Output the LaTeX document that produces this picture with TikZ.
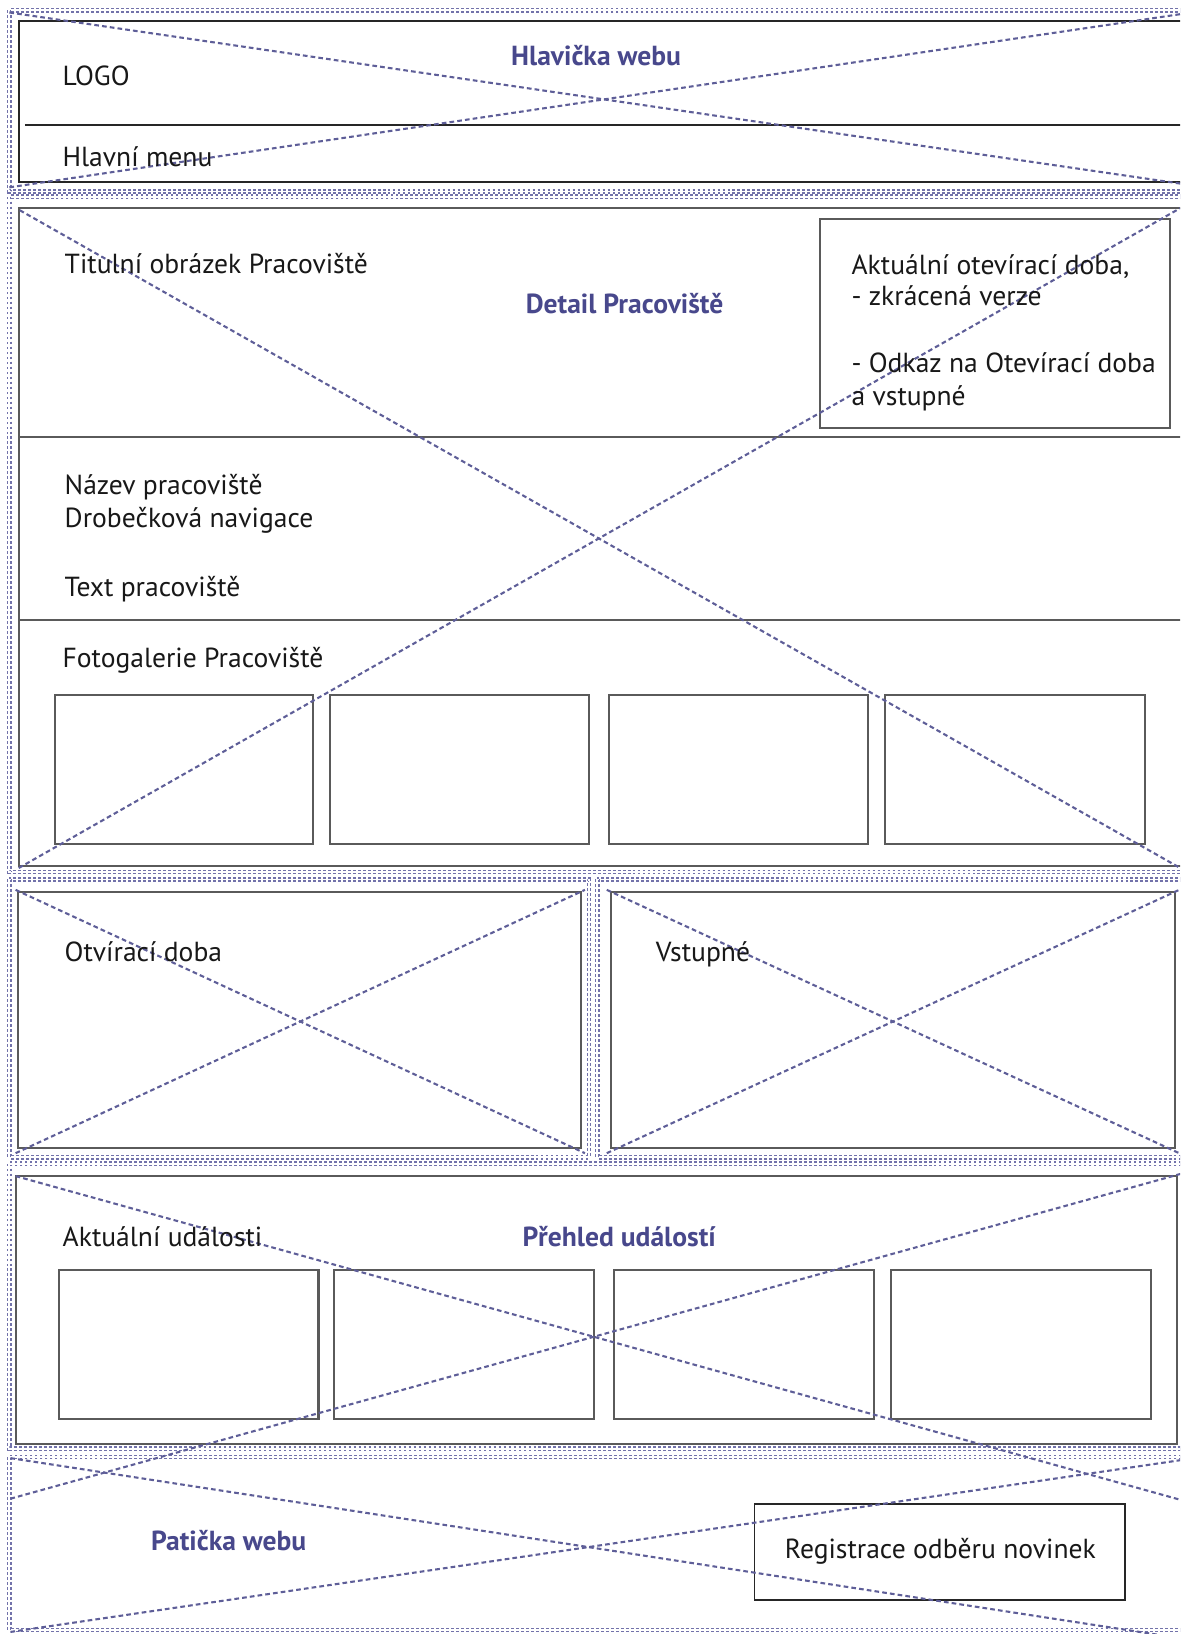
\documentclass[tikz,border=0pt]{standalone}
\usepackage{fontspec}
\setmainfont{PT Sans}
\definecolor{frameblue}{HTML}{7272AA}
\definecolor{diagblue}{HTML}{5E5E98}
\definecolor{boxgrey}{HTML}{5A5A5A}
\definecolor{darkline}{HTML}{262626}
\definecolor{textblack}{HTML}{181818}
\definecolor{titleblue}{HTML}{48488C}
\begin{document}
\begin{tikzpicture}[x=1pt,y=-1pt,
  frame/.style={draw=frameblue, line width=1.3pt, double=white, double distance=1.8pt, dash pattern=on 2.6pt off 2.2pt},
  diag/.style={draw=diagblue, line width=2pt, dash pattern=on 4.5pt off 3pt},
  box/.style={draw=boxgrey, line width=2pt},
  darkbox/.style={draw=darkline, line width=1.7pt},
  txt/.style={anchor=base west, inner sep=0pt, font=\fontsize{26.5}{30}\selectfont, text=textblack},
  ttl/.style={anchor=base west, inner sep=0pt, font=\fontsize{26.5}{30}\selectfont\bfseries, text=titleblue}]
\useasboundingbox (0,0) rectangle (1134,1570);
\clip (0,0) rectangle (1134,1570);
\fill[white] (0,0) rectangle (1134,1570);

% ---------- outer dotted frames ----------
\draw[frame] (9,10) rectangle (1150,184);
\draw[frame] (9,189) rectangle (1150,838);
\draw[frame] (9,845) rectangle (566,1112);
\draw[frame] (574,845) rectangle (1150,1112);
\draw[frame] (9,1118) rectangle (1150,1392);
\draw[frame] (9,1400) rectangle (1150,1566);

% ---------- inner boxes ----------
% header
\draw[darkbox] (18,20) rectangle (1150,175);
\draw[darkbox] (24,120) -- (1150,120);
% detail
\draw[box] (18,200) rectangle (1150,832);
\draw[box] (18,420) -- (1150,420);
\draw[box] (18,596) -- (1150,596);
\draw[box] (788,210) rectangle (1124,411);
\draw[box] (53,668) rectangle (301,811);
\draw[box] (317,668) rectangle (566,811);
\draw[box] (585,668) rectangle (834,811);
\draw[box] (850,668) rectangle (1100,811);
% opening hours / admission
\draw[box] (17,857) rectangle (558,1103);
\draw[box] (587,857) rectangle (1129,1103);
% events
\draw[box] (15,1130) rectangle (1131,1387);
\draw[box] (57,1220) rectangle (306,1363);
\draw[box] (321,1220) rectangle (571,1363);
\draw[box] (590,1220) rectangle (840,1363);
\draw[box] (856,1220) rectangle (1106,1363);
% footer
\draw[darkbox] (725,1445) rectangle (1081,1537);

% ---------- diagonal crosses ----------
\coordinate (h1) at (9,12);    \coordinate (h2) at (1145,178);
\coordinate (h3) at (9,180);   \coordinate (h4) at (1145,12);
\coordinate (d1) at (19,202);  \coordinate (d2) at (1134,834);
\coordinate (d3) at (18,834);  \coordinate (d4) at (1134,200);
\coordinate (o1) at (15,855);  \coordinate (o2) at (562,1108);
\coordinate (o3) at (15,1108); \coordinate (o4) at (562,855);
\coordinate (v1) at (583,855); \coordinate (v2) at (1133,1108);
\coordinate (v3) at (583,1108);\coordinate (v4) at (1133,855);
\coordinate (e1) at (15,1130); \coordinate (e2) at (1134,1441);
\coordinate (e3) at (10,1440); \coordinate (e4) at (1134,1128);
\coordinate (f1) at (10,1401); \coordinate (f2) at (1134,1574);
\coordinate (f3) at (10,1568); \coordinate (f4) at (1134,1403);
\draw[diag] (h1) -- (h2); \draw[diag] (h3) -- (h4);
\draw[diag] (d1) -- (d2); \draw[diag] (d3) -- (d4);
\draw[diag] (o1) -- (o2); \draw[diag] (o3) -- (o4);
\draw[diag] (v1) -- (v2); \draw[diag] (v3) -- (v4);
\draw[diag] (e1) -- (e2); \draw[diag] (e3) -- (e4);
\draw[diag] (f1) -- (f2); \draw[diag] (f3) -- (f4);

% ---------- texts ----------
\node[ttl] (thead) at (491,63) {Hlavička webu};
\node[txt] (logo) at (60,82) {LOGO};
\node[txt] (menu) at (60,160) {Hlavní menu};
\node[txt] (titimg) at (62,263) {Titulní obrázek Pracoviště};
\node[ttl] (tdetail) at (505,301) {Detail Pracoviště};
\node[txt] (akt1) at (818,264) {Aktuální otevírací doba,};
\node[txt] (akt2) at (818,294) {- zkrácená verze};
\node[txt] (akt3) at (818,358) {- Odkaz na Otevírací doba};
\node[txt] (akt4) at (818,390) {a vstupné};
\node[txt] (nazev) at (62,475) {Název pracoviště};
\node[txt] (drob) at (62,507) {Drobečková navigace};
\node[txt] (textp) at (62,573) {Text pracoviště};
\node[txt] (foto) at (60,641) {Fotogalerie Pracoviště};
\node[txt] (otv) at (62,924) {Otvírací doba};
\node[txt] (vst) at (630,924) {Vstupné};
\node[txt] (aktud) at (60,1198) {Aktuální události};
\node[ttl] (tevents) at (502,1198) {Přehled událostí};
\node[ttl] (tfoot) at (145,1490) {Patička webu};
\node[txt] (reg) at (754,1497) {Registrace odběru novinek};
\end{tikzpicture}
\end{document}
